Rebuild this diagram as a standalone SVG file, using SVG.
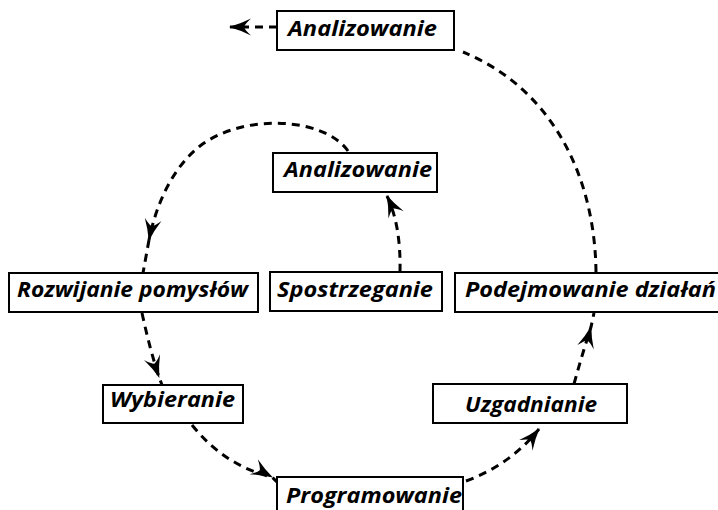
<svg xmlns="http://www.w3.org/2000/svg" width="718" height="510" viewBox="0 0 718 510">
  <style>
    .box { fill: #ffffff; stroke: #000000; stroke-width: 2; }
    .lbl { font-family: "Open Sans", "Liberation Sans", sans-serif; font-weight: bold; font-style: italic; font-size: 21px; fill: #000000; }
    .conn { fill: none; stroke: #000000; stroke-width: 3; stroke-dasharray: 8 6; }
  </style>
  <defs>
    <marker id="arr" viewBox="-23 -10 25 20" refX="0" refY="0" markerWidth="25" markerHeight="20" markerUnits="userSpaceOnUse" orient="auto">
      <path d="M1,0 Q-10,-3 -21,-8.5 Q-15,-3 -14,0 Q-15,3 -21,8.5 Q-10,3 1,0 Z" fill="#000000"/>
    </marker>
  </defs>
  <rect width="718" height="510" fill="#ffffff"/>

  <g id="connectors">
    <path class="conn" d="M400,272 Q401,225 387,196" marker-end="url(#arr)"/>
    <path class="conn" d="M348,151 C325,118 245,112 200,146 C172,168 156,205 149,240" marker-end="url(#arr)"/>
    <path class="conn" d="M149,240 L143,273"/>
    <path class="conn" d="M142,313 Q150,350 159,377 L162,385" marker-mid="url(#arr)"/>
    <path class="conn" d="M192,425 Q225,466 272,477 L279,484" marker-mid="url(#arr)"/>
    <path class="conn" d="M466,481 Q510,465 539,429" marker-end="url(#arr)"/>
    <path class="conn" d="M574,384 Q582,355 591,327 L594,313" marker-mid="url(#arr)"/>
    <path class="conn" d="M596,272 C595,180 555,90 463,52"/>
    <path class="conn" d="M277,27 L230,27" marker-end="url(#arr)"/>
  </g>

  <g id="analizowanie-top">
    <rect class="box" x="277" y="11" width="177" height="39"/>
    <text class="lbl" x="288" y="36" textLength="149" lengthAdjust="spacingAndGlyphs">Analizowanie</text>
  </g>
  <g id="analizowanie-mid">
    <rect class="box" x="273" y="153" width="164" height="39"/>
    <text class="lbl" x="284" y="177" textLength="148" lengthAdjust="spacingAndGlyphs">Analizowanie</text>
  </g>
  <g id="rozwijanie">
    <rect class="box" x="9" y="273" width="249" height="39"/>
    <text class="lbl" x="17" y="297" textLength="231" lengthAdjust="spacingAndGlyphs">Rozwijanie pomysłów</text>
  </g>
  <g id="spostrzeganie">
    <rect class="box" x="270" y="272" width="172" height="39"/>
    <text class="lbl" x="277" y="297" textLength="156" lengthAdjust="spacingAndGlyphs">Spostrzeganie</text>
  </g>
  <g id="podejmowanie">
    <rect class="box" x="455" y="273" width="270" height="39"/>
    <text class="lbl" x="465" y="297" textLength="251" lengthAdjust="spacingAndGlyphs">Podejmowanie działań</text>
  </g>
  <g id="wybieranie">
    <rect class="box" x="103" y="385" width="140" height="38"/>
    <text class="lbl" x="110" y="407" textLength="125" lengthAdjust="spacingAndGlyphs">Wybieranie</text>
  </g>
  <g id="uzgadnianie">
    <rect class="box" x="433" y="384" width="194" height="39"/>
    <text class="lbl" x="465" y="412" textLength="132" lengthAdjust="spacingAndGlyphs">Uzgadnianie</text>
  </g>
  <g id="programowanie">
    <rect class="box" x="277" y="477" width="186" height="40"/>
    <text class="lbl" x="286" y="503" textLength="176" lengthAdjust="spacingAndGlyphs">Programowanie</text>
  </g>
</svg>
